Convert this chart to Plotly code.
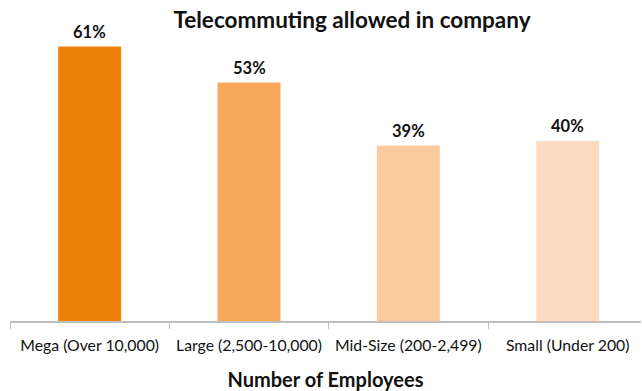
import plotly.graph_objects as go

# Share of companies allowing telecommuting, by company size
categories = ["Mega (Over 10,000)", "Large (2,500-10,000)", "Mid-Size (200-2,499)", "Small (Under 200)"]
values = [61, 53, 39, 40]
colors = ["#EC8209", "#F8A85C", "#FCCB9D", "#FDDBC2"]

FONT = "Lato, 'Open Sans', sans-serif"

fig = go.Figure(
    go.Bar(
        x=categories,
        y=values,
        marker=dict(color=colors, line=dict(width=0)),
        width=0.395,
        hoverinfo="x+y",
    )
)

# Percentage labels above each bar
for cat, val in zip(categories, values):
    fig.add_annotation(
        x=cat,
        y=val,
        text=f"<b>{val}%</b>",
        showarrow=False,
        yanchor="bottom",
        yshift=3,
        font=dict(family=FONT, size=16.5, color="#111111"),
    )

fig.update_layout(
    width=642,
    height=391,
    margin=dict(l=10, r=1, t=6, b=70),
    paper_bgcolor="white",
    plot_bgcolor="white",
    showlegend=False,
    title=dict(
        text="<b>Telecommuting allowed in company</b>",
        x=352 / 642,
        xanchor="center",
        y=1 - 20 / 391,
        yanchor="middle",
        font=dict(family=FONT, size=22.5, color="#111111"),
    ),
    xaxis=dict(
        type="category",
        range=[-0.5, 3.46],
        showline=True,
        linecolor="#BFBFBF",
        linewidth=1.5,
        ticks="outside",
        tickson="boundaries",
        ticklen=6,
        tickcolor="#BFBFBF",
        ticklabelstandoff=9,
        tickfont=dict(family=FONT, size=15.8, color="#111111"),
        showgrid=False,
        title=dict(
            text="<b>Number of Employees</b>",
            font=dict(family=FONT, size=20, color="#111111"),
            standoff=21,
        ),
    ),
    yaxis=dict(
        range=[0, 70],
        visible=False,
        showgrid=False,
        zeroline=False,
    ),
)

fig.write_html("out.html")
